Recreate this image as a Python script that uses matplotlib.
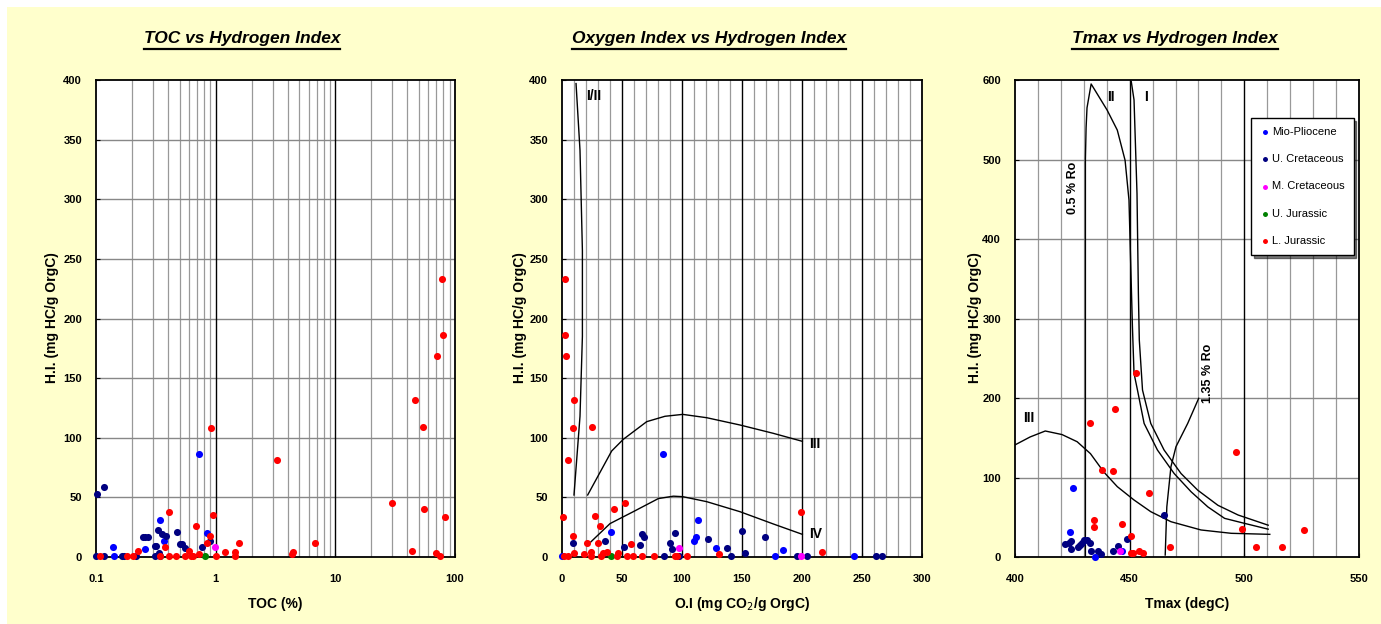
import matplotlib
matplotlib.use("Agg")
import matplotlib.pyplot as plt
from matplotlib.lines import Line2D
from matplotlib.patches import Rectangle
from matplotlib import font_manager

narrow = [f.name for f in font_manager.fontManager.ttflist if f.name == "Liberation Sans Narrow"]
FONT = ["Liberation Sans Narrow", "Liberation Sans"] if narrow else ["Liberation Sans"]
plt.rcParams["font.family"] = FONT

BG = "#FFFFCC"
SERIES = ["Mio-Pliocene", "U. Cretaceous", "M. Cretaceous", "U. Jurassic", "L. Jurassic"]
COLORS = ["#0000FF", "#000080", "#FF00FF", "#008000", "#FF0000"]

# ---- TOC vs HI ----
toc_blue = [0.72, 0.343, 0.373, 0.85, 0.138, 0.256, 0.142]
hi1_blue = [86, 31, 13.7, 20.4, 8, 6.4, 0.5]
toc_navy = [0.1025, 0.117, 0.33, 0.476, 0.248, 0.259, 0.273, 0.357, 0.385, 0.89, 0.77, 0.5, 0.52,
            0.55, 0.31, 0.32, 0.337, 0.1, 0.117, 0.164, 0.17, 0.214, 0.31, 0.34]
hi1_navy = [53, 59, 23, 21, 16.5, 16.5, 16.5, 19.5, 17.3, 13.7, 8, 11.3, 11.3,
            7.3, 9, 9, 3, 0.5, 0.5, 0.5, 0.5, 0.5, 0.5, 0.5]
toc_mag = [0.99]
hi1_mag = [8]
toc_green = [0.81]
hi1_green = [0.5]
toc_red = [0.92, 3.24, 54, 29.7, 55, 83, 0.41, 0.95, 0.69, 0.89, 0.84, 0.6, 0.73, 0.38, 0.225, 1.2,
           1.45, 1.45, 1.58, 4.35, 4.4, 6.7, 44, 70, 75, 77.5, 79, 71, 46, 0.108, 0.18, 0.205,
           0.34, 0.41, 0.47, 0.55, 0.62, 0.65, 1.01]
hi1_red = [108, 81, 109, 45.6, 40.5, 33.8, 38, 35.5, 26, 18, 12, 4.8, 2.2, 8, 4.8, 4,
           4, 0.5, 12, 2.5, 4, 11.5, 4.8, 3, 0.5, 233, 186, 168.5, 132, 0.5, 0.5, 0.5,
           0.5, 0.5, 0.5, 0.5, 0.5, 0.5, 0.5]

# ---- OI vs HI ----
oi_blue = [84, 40.8, 109.7, 111.9, 113.6, 128.3, 183.9, 0, 177.2, 243]
hi2_blue = [86, 20.7, 13.7, 17, 31.3, 7.8, 6, 0.5, 0.5, 0.5]
oi_navy = [8.9, 35.8, 52, 65.3, 66.7, 68.3, 89.7, 94.2, 92, 121.7, 137.2, 150.3, 152.8, 169.2,
           85.3, 97.2, 140.8, 195.8, 204.4, 261.4, 267]
hi2_navy = [11.5, 13.7, 8, 9.8, 19.6, 16.5, 12, 20.4, 6.4, 15.4, 7.8, 22, 3, 16.5,
            0.5, 0.5, 0.5, 0.5, 0.5, 0.5, 0.5]
oi_mag = [97.8, 199.4]
hi2_mag = [7.8, 0.5]
oi_green = [41.1]
hi2_green = [0.5]
oi_red = [2.2, 2.2, 3.6, 10.3, 9.4, 25.3, 5.3, 0.8, 27.5, 43.6, 52.8, 31.7, 9.2, 20.5, 29.7, 9.7,
          57.8, 130.6, 199.4, 216.7, 2, 5.3, 18.6, 24.2, 24.2, 32.5, 34.4, 37.2, 45.6, 46.9,
          54.2, 59.4, 66.9, 76.9, 93.9, 95.6, 104.4]
hi2_red = [233, 186, 168.5, 132, 108.4, 109, 81, 33.8, 34.4, 40.5, 45.5, 26, 18, 12, 12, 3,
           11.2, 2.2, 38, 4.5, 0.5, 0.5, 2.7, 4.5, 0.5, 0.5, 3, 4, 0.5, 3.5,
           0.5, 0.5, 0.5, 0.5, 0.5, 0.5, 0.5]

# kerogen type lines (OI plot)
k12_oi = [11.7, 15, 17, 17, 15, 10]
k12_hi = [397, 341, 257, 185, 118, 52]
k3_oi = [21.4, 41.4, 51.1, 70.6, 85.8, 100.6, 120.6, 148.3, 176.1, 200.3]
k3_hi = [52, 88.9, 98.7, 113.5, 118, 119.6, 116.8, 110.7, 103.7, 97]
k4_oi = [21.9, 40, 59.4, 80.3, 92.8, 100.6, 120.6, 148.3, 176.1, 200.3]
k4_hi = [10.6, 28, 38, 49, 51, 50.6, 46.4, 38, 27.7, 19]

# ---- Tmax vs HI ----
tm_blue = [425.4, 424.1, 434.8, 446.8]
hi3_blue = [87.2, 31.8, 0.5, 8]
tm_navy = [464.8, 448.8, 421.8, 423.4, 424.3, 424.6, 427.5, 428.2, 429.1, 430, 431.4, 432.6,
           433.2, 436.3, 437.6, 442.8, 444.9]
hi3_navy = [53.2, 23, 16, 18, 20, 9.6, 12.2, 14.7, 18, 21, 21, 17.2,
            8, 7, 3.4, 8, 14.3]
tm_mag = [445.8]
hi3_mag = [8]
tm_green = []
hi3_green = []
tm_red = [452.6, 443.7, 432.6, 437.9, 442.8, 458.5, 434.6, 434.3, 446.8, 450.6, 496.5, 499.1,
          526, 467.5, 505, 516.4, 450.4, 451.6, 454.2, 455.7]
hi3_red = [231.8, 185.8, 168.2, 109.4, 108.2, 80.9, 46.1, 38.1, 41.1, 26.8, 132, 35.6,
           34.4, 12.2, 12.2, 12.2, 4.6, 4.6, 8, 5.4]

t1_t = [450.7, 451.9, 453.2, 453.8, 454.2, 455.6, 459.2, 465, 472.4, 479.7, 488.5, 497.3, 510.4]
t1_hi = [598, 575, 457, 332, 273, 210, 168, 134.6, 105, 84, 65, 52.8, 40]
t2_t = [430.7, 430.7, 431.0, 431.4, 433.2, 440.2, 444.6, 448, 449.7, 450.4, 451.2, 451.9, 453.4,
        456.3, 462.1, 469.4, 476.8, 484.1, 491.4, 500.1, 510.4]
t2_hi = [0, 500, 540, 565, 595, 562, 537, 499, 449, 374, 290, 231, 210,
         168, 134.6, 105, 82, 63, 48.6, 42.3, 35]
t3_t = [400, 406.6, 413.2, 420.5, 427.1, 432.9, 438.7, 444.6, 451.9, 459.2, 468, 481.1, 494.3, 511.1]
t3_hi = [141, 151, 158.5, 154, 145, 130, 107, 88.5, 71.7, 57, 44.4, 34, 29.8, 28.5]
ro135_t = [465.5, 466.2, 468, 470.2, 475.3, 480.1]
ro135_hi = [2.5, 63, 113.6, 138.8, 168, 199.6]

W, H = 1381, 624
fig = plt.figure(figsize=(W / 100, H / 100), dpi=100)
fig.patch.set_facecolor("white")
fig.add_artist(Rectangle((7 / W, 0), 1 - 7 / W, 1 - 7 / H, transform=fig.transFigure,
                         facecolor=BG, edgecolor="none", zorder=-10))


def make_axes(left, right, top=80, bottom=557):
    return fig.add_axes([left / W, 1 - bottom / H, (right - left) / W, (bottom - top) / H])


ax1 = make_axes(96, 455)
ax2 = make_axes(562, 922)
ax3 = make_axes(1015, 1359)


def style(ax):
    ax.set_facecolor("white")
    for s in ax.spines.values():
        s.set_linewidth(1.3)
        s.set_color("black")
    ax.tick_params(which="both", length=3, width=0.8, direction="in")
    ax.tick_params(axis="x", pad=12)
    ax.tick_params(axis="y", pad=10)
    for lab in ax.get_xticklabels() + ax.get_yticklabels():
        lab.set_fontsize(8)
        lab.set_fontweight("bold")


def scatter_all(ax, xs, ys):
    for x, y, lab, c in zip(xs, ys, SERIES, COLORS):
        ax.scatter(x, y, s=26, color=c, label=lab, zorder=5, linewidths=0, clip_on=False)


# panel 1
ax1.set_xscale("log")
ax1.set_xlim(0.1, 100)
ax1.set_ylim(0, 400)
ax1.set_xticks([0.1, 1, 10, 100])
ax1.set_xticklabels(["0.1", "1", "10", "100"])
ax1.set_yticks(range(0, 401, 50))
ax1.minorticks_off()
for dec in [0.1, 1, 10]:
    for m in range(2, 10):
        ax1.axvline(dec * m, color="#999999", lw=0.9, zorder=1)
for v in [1, 10]:
    ax1.axvline(v, color="black", lw=1.0, zorder=2)
for h in range(50, 400, 50):
    ax1.axhline(h, color="#888888", lw=1.0, zorder=1)
scatter_all(ax1, [toc_blue, toc_navy, toc_mag, toc_green, toc_red],
            [hi1_blue, hi1_navy, hi1_mag, hi1_green, hi1_red])
style(ax1)

# panel 2
ax2.set_xlim(0, 300)
ax2.set_ylim(0, 400)
ax2.set_xticks(range(0, 301, 50))
ax2.set_yticks(range(0, 401, 50))
for v in range(10, 300, 10):
    if v % 50:
        ax2.axvline(v, color="#999999", lw=0.9, zorder=1)
    else:
        ax2.axvline(v, color="black", lw=1.0, zorder=2)
for h in range(50, 400, 50):
    ax2.axhline(h, color="#888888", lw=1.0, zorder=1)
for xs, ys in [(k12_oi, k12_hi), (k3_oi, k3_hi), (k4_oi, k4_hi)]:
    ax2.plot(xs, ys, color="black", lw=1.0, zorder=4)
scatter_all(ax2, [oi_blue, oi_navy, oi_mag, oi_green, oi_red],
            [hi2_blue, hi2_navy, hi2_mag, hi2_green, hi2_red])
ax2.text(20, 387, "I/II", fontsize=10, fontweight="bold", va="center", zorder=6)
ax2.text(206, 95, "III", fontsize=10, fontweight="bold", va="center", zorder=6)
ax2.text(206, 19, "IV", fontsize=10, fontweight="bold", va="center", zorder=6)
style(ax2)

# panel 3
ax3.set_xlim(400, 550)
ax3.set_ylim(0, 600)
ax3.set_xticks(range(400, 551, 50))
ax3.set_yticks(range(0, 601, 100))
for v in range(410, 550, 10):
    if v % 50:
        ax3.axvline(v, color="#999999", lw=0.9, zorder=1)
    else:
        ax3.axvline(v, color="black", lw=1.0, zorder=2)
for h in range(100, 600, 100):
    ax3.axhline(h, color="#888888", lw=1.0, zorder=1)
for xs, ys in [(t1_t, t1_hi), (t2_t, t2_hi), (t3_t, t3_hi), (ro135_t, ro135_hi)]:
    ax3.plot(xs, ys, color="black", lw=1.0, zorder=4)
scatter_all(ax3, [tm_blue, tm_navy, tm_mag, tm_green, tm_red],
            [hi3_blue, hi3_navy, hi3_mag, hi3_green, hi3_red])
ax3.text(441.7, 578, "II", fontsize=10, fontweight="bold", ha="center", va="center", zorder=6)
ax3.text(457.2, 578, "I", fontsize=10, fontweight="bold", ha="center", va="center", zorder=6)
ax3.text(405.8, 175, "III", fontsize=10, fontweight="bold", ha="center", va="center", zorder=6)
ax3.text(425.3, 464, "0.5 % Ro", fontsize=9, fontweight="bold", rotation=90,
         ha="center", va="center", zorder=6)
ax3.text(484, 231, "1.35 % Ro", fontsize=9, fontweight="bold", rotation=90,
         ha="center", va="center", zorder=6)
leg = ax3.legend(loc="upper left", bbox_to_anchor=(0.686, 0.92), fancybox=False,
                 shadow={"color": "black"}, edgecolor="black", framealpha=1,
                 fontsize=8, markerscale=0.7, labelspacing=1.55, handletextpad=0.2,
                 handlelength=0.9, borderpad=0.8, borderaxespad=0, scatterpoints=1)
leg.get_frame().set_linewidth(1.0)
leg.set_zorder(10)
style(ax3)

# titles, axis labels
LBL = dict(fontsize=10, fontweight="bold", ha="center", va="center")
for xc, txt in [(275, "TOC (%)"), (742, "O.I (mg CO$_2$/g OrgC)"), (1187, "Tmax (degC)")]:
    fig.text(xc / W, 1 - 604 / H, txt, **LBL)
for xc in [52, 520, 975]:
    fig.text(xc / W, 1 - 318 / H, "H.I. (mg HC/g OrgC)", rotation=90, **LBL)

renderer = fig.canvas.get_renderer()
for xc, txt in [(242, "TOC vs Hydrogen Index"), (709, "Oxygen Index vs Hydrogen Index"),
                (1175, "Tmax vs Hydrogen Index")]:
    t = fig.text(xc / W, 1 - 38 / H, txt, fontsize=12.5, fontweight="bold", style="italic",
                 ha="center", va="center")
    bb = t.get_window_extent(renderer).transformed(fig.transFigure.inverted())
    yl = 1 - 48.5 / H
    fig.add_artist(Line2D([bb.x0, bb.x1], [yl, yl], transform=fig.transFigure,
                          color="black", lw=1.6))

fig.savefig("out.png", dpi=100, facecolor=fig.get_facecolor())
